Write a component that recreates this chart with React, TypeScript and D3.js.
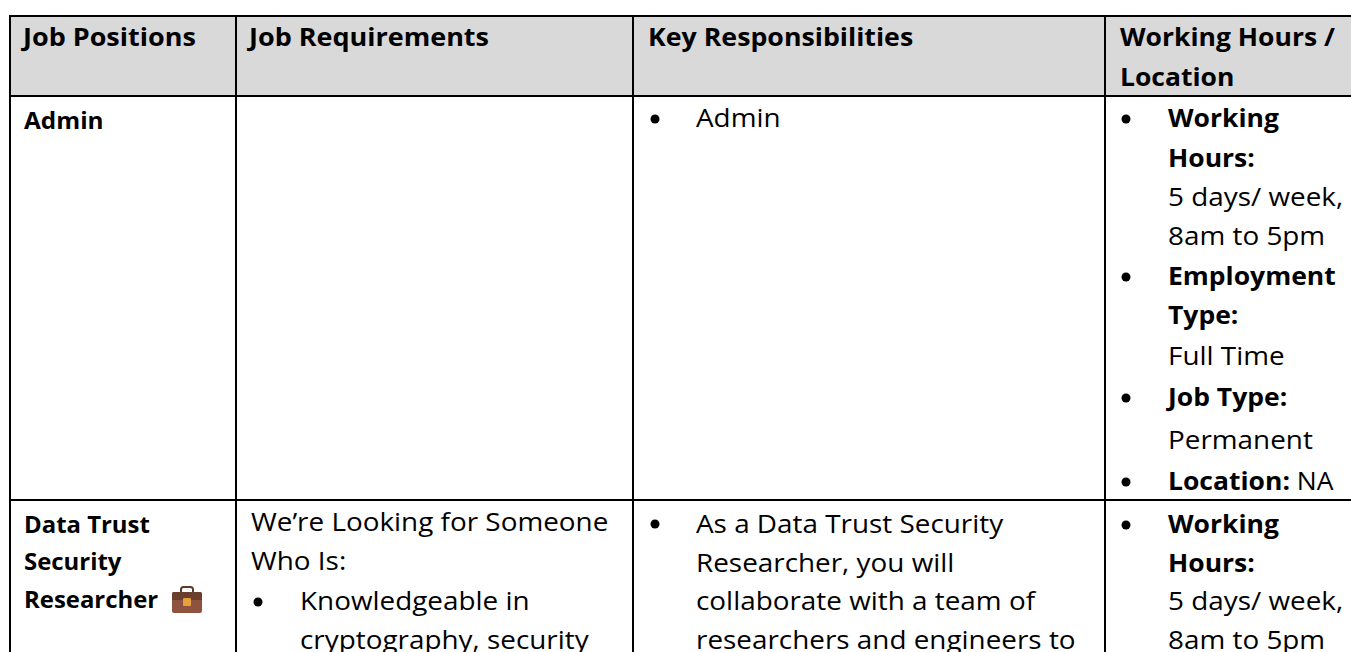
import React from "react";
import * as d3 from "d3";

const headers = ["Job Positions", "Job Requirements", "Key Responsibilities", "Working Hours /", "Location"];

const positionAdmin = ["Admin"];
const positionResearcher = ["Data Trust", "Security", "Researcher"];

const requirementsIntro = ["We’re Looking for Someone", "Who Is:"];
const requirementsBullet = ["Knowledgeable in", "cryptography, security"];

const responsibilitiesAdmin = ["Admin"];
const responsibilitiesResearcher = [
  "As a Data Trust Security",
  "Researcher, you will",
  "collaborate with a team of",
  "researchers and engineers to",
];

const hoursAdmin = [
  { bold: "Working", text: "", bullet: true },
  { bold: "Hours:", text: "", bullet: false },
  { bold: "", text: "5 days/ week,", bullet: false },
  { bold: "", text: "8am to 5pm", bullet: false },
  { bold: "Employment", text: "", bullet: true },
  { bold: "Type:", text: "", bullet: false },
  { bold: "", text: "Full Time", bullet: false },
  { bold: "Job Type:", text: "", bullet: true },
  { bold: "", text: "Permanent", bullet: false },
  { bold: "Location:", text: " NA", bullet: true },
];
const hoursResearcher = hoursAdmin.slice(0, 4);

// layout
const colEdges = [10, 236, 633, 1105, 1351];
const rowEdges = [16, 96, 500, 652];
const fontFamily = "'Open Sans', sans-serif";
const fontSize = 25;
const smallSize = 23;
const regularStretch = 1.115;
const boldStretch = 1.06;
const baselines1 = [127, 167, 206, 245, 285, 324, 365, 406, 449, 490];
const baselines2 = [533, 572, 610, 649];
const baselinesPos = [533, 570, 608];
const baselinesReq = [531, 570, 610, 649];
const adminBaseline = 129;
const hdr = [46, 86];
const bulletR = 4.5;

function Line({ x, y, bold, size = fontSize, stretch, children }: { x: number; y: number; bold?: boolean; size?: number; stretch?: number; children: React.ReactNode }) {
  const sx = stretch ?? (bold ? boldStretch : regularStretch);
  return (
    <text transform={`translate(${x},${y}) scale(${sx},1)`} fontFamily={fontFamily} fontSize={size} fontWeight={bold ? 700 : 400} fill="#000" xmlSpace="preserve">
      {children}
    </text>
  );
}

function Briefcase({ x, y }: { x: number; y: number }) {
  return (
    <g transform={`translate(${x},${y})`}>
      <path d="M9 5 V2.5 Q9 0 11.5 0 H18.5 Q21 0 21 2.5 V5" fill="none" stroke="#5f3a2b" strokeWidth={2} />
      <rect x={0} y={5} width={30} height={21} rx={2} fill="#8d5340" />
      <path d="M0 7 Q0 5 2 5 H28 Q30 5 30 7 V13 H0 Z" fill="#6b3f2e" />
      <rect x={11} y={11} width={8} height={8} rx={1} fill="#e8a13a" />
    </g>
  );
}

export default function App() {
  const col = d3.scaleOrdinal<number, number>().domain([0, 1, 2, 3, 4]).range(colEdges);
  const row = d3.scaleOrdinal<number, number>().domain([0, 1, 2, 3]).range(rowEdges);

  return (
    <svg
      width={1351}
      height={652}
      style={{ position: "absolute", left: 0, top: 0, background: "#fff" }}
    >
      <rect x={col(0)} y={row(0)} width={1351 - col(0)} height={row(1) - row(0)} fill="#d9d9d9" />

      {rowEdges.slice(0, 3).map((y) => (
        <line key={y} x1={col(0) - 1} x2={1351} y1={y} y2={y} stroke="#000" strokeWidth={2} />
      ))}
      {colEdges.slice(0, 4).map((x) => (
        <line key={x} x1={x} x2={x} y1={row(0)} y2={652} stroke="#000" strokeWidth={2} />
      ))}

      <Line x={col(0) + 13} y={hdr[0]} bold stretch={1.08}>{headers[0]}</Line>
      <Line x={col(1) + 13} y={hdr[0]} bold stretch={1.08}>{headers[1]}</Line>
      <Line x={col(2) + 15} y={hdr[0]} bold stretch={1.07}>{headers[2]}</Line>
      <Line x={col(3) + 15} y={hdr[0]} bold>{headers[3]}</Line>
      <Line x={col(3) + 15} y={hdr[1]} bold>{headers[4]}</Line>

      {positionAdmin.map((t) => (
        <Line key={t} x={col(0) + 14} y={adminBaseline} bold size={smallSize}>{t}</Line>
      ))}
      {positionResearcher.map((t, i) => (
        <Line key={t} x={col(0) + 14} y={baselinesPos[i]} bold size={smallSize} stretch={1.04}>{t}</Line>
      ))}
      <Briefcase x={172} y={587} />

      {requirementsIntro.map((t, i) => (
        <Line key={t} x={col(1) + 15} y={baselinesReq[i]}>{t}</Line>
      ))}
      <circle cx={col(1) + 22} cy={baselinesReq[2] - 8} r={bulletR} fill="#000" />
      {requirementsBullet.map((t, i) => (
        <Line key={t} x={col(1) + 64} y={baselinesReq[i + 2]}>{t}</Line>
      ))}

      <circle cx={col(2) + 22} cy={baselines1[0] - 8} r={bulletR} fill="#000" />
      {responsibilitiesAdmin.map((t, i) => (
        <Line key={t} x={col(2) + 63} y={baselines1[i]}>{t}</Line>
      ))}
      <circle cx={col(2) + 22} cy={baselines2[0] - 9} r={bulletR} fill="#000" />
      {responsibilitiesResearcher.map((t, i) => (
        <Line key={t} x={col(2) + 63} y={baselines2[i]}>{t}</Line>
      ))}

      {[
        { lines: hoursAdmin, ys: baselines1 },
        { lines: hoursResearcher, ys: baselines2 },
      ].map(({ lines, ys }) =>
        lines.map((l, i) => (
          <g key={ys[i]}>
            {l.bullet && <circle cx={col(3) + 21} cy={ys[i] - 8} r={bulletR} fill="#000" />}
            <Line x={col(3) + 63} y={ys[i]} bold={!!l.bold && !l.text} stretch={l.bold ? boldStretch : regularStretch}>
              {l.bold && <tspan fontWeight={700}>{l.bold}</tspan>}
              {l.text && <tspan>{l.text}</tspan>}
            </Line>
          </g>
        ))
      )}
    </svg>
  );
}
